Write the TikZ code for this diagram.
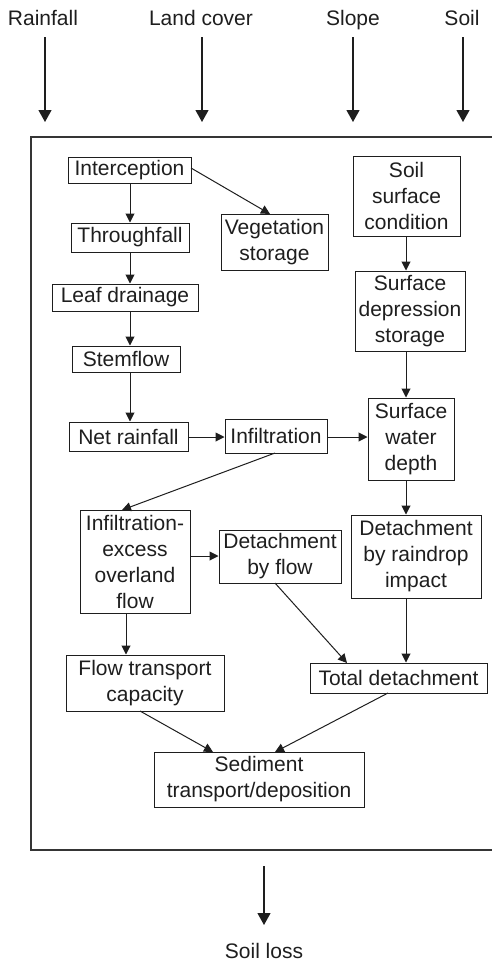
\documentclass[tikz,border=0pt]{standalone}
\usepackage{fontspec}
\setmainfont{Liberation Sans}
\usetikzlibrary{arrows.meta}
\definecolor{ink}{HTML}{1E1E1E}
\begin{document}
\begin{tikzpicture}[x=1pt,y=-1pt,
  every node/.style={font=\fontsize{21}{26}\selectfont, text=ink},
  bx/.style={draw=ink, line width=1pt, inner sep=0pt, align=center},
  arr/.style={draw=ink, line width=1pt, -{Triangle[width=9pt,length=9pt]}},
  bigarr/.style={draw=ink, line width=1.2pt, -{Triangle[width=13pt,length=12pt]}},
  lab/.style={inner sep=0pt, anchor=base}]
\useasboundingbox (0,0) rectangle (492,961);
% outer frame (open on the right)
\draw[draw=ink!90, line width=1.6pt] (493,137) -- (31,137) -- (31,850) -- (493,850);
% inputs
\node[lab] (rain) at (43,25) {Rainfall};
\node[lab] (land) at (201,25) {Land cover};
\node[lab] (slope) at (353,25) {Slope};
\node[lab] (soil) at (462,25) {Soil};
\coordinate (r1) at (45,37);  \coordinate (r2) at (45,122);
\coordinate (l1) at (202,37); \coordinate (l2) at (202,122);
\coordinate (s1) at (353,37); \coordinate (s2) at (353,122);
\coordinate (o1) at (463,37); \coordinate (o2) at (463,122);
\draw[bigarr] (r1) -- (r2);
\draw[bigarr] (l1) -- (l2);
\draw[bigarr] (s1) -- (s2);
\draw[bigarr] (o1) -- (o2);
% boxes
\node[bx, minimum width=123pt, minimum height=26pt] (intc) at (129.5,170) {Interception};
\node[bx, minimum width=118pt, minimum height=29pt] (thr) at (130,237.5) {Throughfall};
\node[bx, minimum width=146pt, minimum height=27pt] (leaf) at (125,297.5) {Leaf drainage};
\node[bx, minimum width=108pt, minimum height=26pt] (stem) at (126,359) {Stemflow};
\node[bx, minimum width=119pt, minimum height=29pt] (net) at (128.5,436.5) {Net rainfall};
\node[bx, minimum width=102pt, minimum height=34pt] (inf) at (276,436) {Infiltration};
\node[bx, minimum width=107pt, minimum height=56pt] (veg) at (274.5,242) {Vegetation\\storage};
\node[bx, minimum width=107pt, minimum height=80pt] (ssc) at (406.5,196) {Soil\\surface\\condition};
\node[bx, minimum width=110pt, minimum height=80pt] (sds) at (410,311) {Surface\\depression\\storage};
\node[bx, minimum width=86pt, minimum height=82pt] (swd) at (411,439) {Surface\\water\\depth};
\node[bx, minimum width=110pt, minimum height=103pt] (ieo) at (135,561.5) {Infiltration-\\excess\\overland\\flow};
\node[bx, minimum width=122pt, minimum height=53pt] (dbf) at (280,556.5) {Detachment\\by flow};
\node[bx, minimum width=130pt, minimum height=83pt] (dri) at (416,556.5) {Detachment\\by raindrop\\impact};
\node[bx, minimum width=158pt, minimum height=56pt] (ftc) at (145,683) {Flow transport\\capacity};
\node[bx, minimum width=177pt, minimum height=30pt] (tot) at (398.5,678) {Total detachment};
\node[bx, minimum width=210pt, minimum height=55pt] (sed) at (259,779.5) {Sediment\\transport/deposition};
% helper columns
\coordinate (xa) at (130,0);
\coordinate (xb) at (406,0);
\coordinate (xc) at (126,0);
\coordinate (yi) at (0,437);
\coordinate (ye) at (0,556);
% connectors
\draw[arr] (intc.south -| xa) -- (thr.north -| xa);
\draw[arr] (thr.south -| xa) -- (leaf.north -| xa);
\draw[arr] (leaf.south -| xa) -- (stem.north -| xa);
\draw[arr] (stem.south -| xa) -- (net.north -| xa);
\coordinate (ie) at (191,168);
\coordinate (vt) at (270,214);
\draw[arr] (ie) -- (vt);
\draw[arr] (ssc.south -| xb) -- (sds.north -| xb);
\draw[arr] (sds.south -| xb) -- (swd.north -| xb);
\draw[arr] (net.east |- yi) -- (inf.west |- yi);
\draw[arr] (inf.east |- yi) -- (swd.west |- yi);
\coordinate (ib) at (275,453);
\coordinate (it) at (122,510);
\draw[arr] (ib) -- (it);
\draw[arr] (swd.south -| xb) -- (dri.north -| xb);
\draw[arr] (ieo.east |- ye) -- (dbf.west |- ye);
\draw[arr] (ieo.south -| xc) -- (ftc.north -| xc);
\coordinate (fb) at (275,583);
\coordinate (tt) at (347,663);
\draw[arr] (fb) -- (tt);
\draw[arr] (dri.south -| xb) -- (tot.north -| xb);
\coordinate (cb) at (140,711);
\coordinate (st1) at (213,752);
\draw[arr] (cb) -- (st1);
\coordinate (tb) at (388,693);
\coordinate (st2) at (275,752);
\draw[arr] (tb) -- (st2);
% output
\coordinate (q1) at (264,866); \coordinate (q2) at (264,925);
\draw[bigarr] (q1) -- (q2);
\node[lab] (loss) at (264,958) {Soil loss};
\end{tikzpicture}
\end{document}
